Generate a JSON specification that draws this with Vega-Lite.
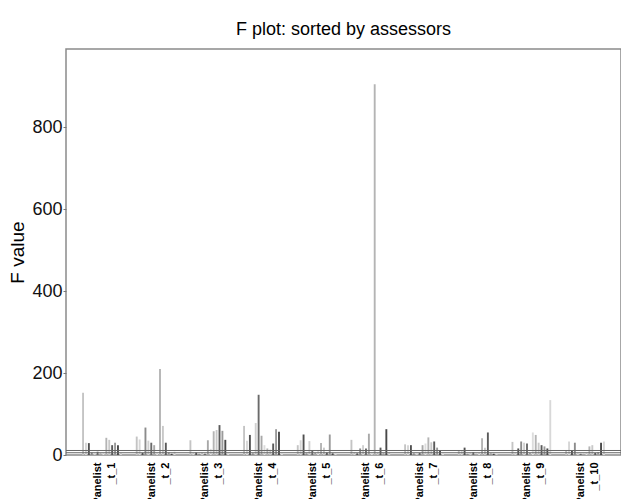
{
  "$schema": "https://vega.github.io/schema/vega-lite/v6.json",
  "width": 555,
  "height": 406,
  "autosize": {"type": "none"},
  "padding": {"left": 66, "top": 49, "right": 0, "bottom": 44},
  "background": "white",
  "title": {"text": "F plot: sorted by assessors", "fontSize": 18, "font": "Liberation Sans", "fontWeight": "normal", "offset": 10, "anchor": "middle", "color": "#000000"},
  "config": {"view": {"stroke": "#8a8a8a", "strokeWidth": 1.5}, "font": "Liberation Sans"},
  "datasets": {
    "bars": [
      {"panelist": "Panelist_t_1", "attribute": "A01", "F": 152},
      {"panelist": "Panelist_t_1", "attribute": "A02", "F": 30},
      {"panelist": "Panelist_t_1", "attribute": "A03", "F": 29},
      {"panelist": "Panelist_t_1", "attribute": "A04", "F": 6},
      {"panelist": "Panelist_t_1", "attribute": "A05", "F": 3},
      {"panelist": "Panelist_t_1", "attribute": "A06", "F": 8},
      {"panelist": "Panelist_t_1", "attribute": "A07", "F": 4},
      {"panelist": "Panelist_t_1", "attribute": "A08", "F": 4},
      {"panelist": "Panelist_t_1", "attribute": "A09", "F": 42},
      {"panelist": "Panelist_t_1", "attribute": "A10", "F": 37},
      {"panelist": "Panelist_t_1", "attribute": "A11", "F": 24},
      {"panelist": "Panelist_t_1", "attribute": "A12", "F": 30},
      {"panelist": "Panelist_t_1", "attribute": "A13", "F": 24},
      {"panelist": "Panelist_t_1", "attribute": "A14", "F": 5},
      {"panelist": "Panelist_t_2", "attribute": "A01", "F": 45},
      {"panelist": "Panelist_t_2", "attribute": "A02", "F": 38},
      {"panelist": "Panelist_t_2", "attribute": "A03", "F": 5},
      {"panelist": "Panelist_t_2", "attribute": "A04", "F": 67},
      {"panelist": "Panelist_t_2", "attribute": "A05", "F": 35},
      {"panelist": "Panelist_t_2", "attribute": "A06", "F": 30},
      {"panelist": "Panelist_t_2", "attribute": "A07", "F": 24},
      {"panelist": "Panelist_t_2", "attribute": "A08", "F": 4},
      {"panelist": "Panelist_t_2", "attribute": "A09", "F": 210},
      {"panelist": "Panelist_t_2", "attribute": "A10", "F": 71},
      {"panelist": "Panelist_t_2", "attribute": "A11", "F": 30},
      {"panelist": "Panelist_t_2", "attribute": "A12", "F": 6},
      {"panelist": "Panelist_t_2", "attribute": "A13", "F": 3},
      {"panelist": "Panelist_t_2", "attribute": "A14", "F": 8},
      {"panelist": "Panelist_t_3", "attribute": "A01", "F": 36},
      {"panelist": "Panelist_t_3", "attribute": "A02", "F": 4},
      {"panelist": "Panelist_t_3", "attribute": "A03", "F": 6},
      {"panelist": "Panelist_t_3", "attribute": "A04", "F": 3},
      {"panelist": "Panelist_t_3", "attribute": "A05", "F": 6},
      {"panelist": "Panelist_t_3", "attribute": "A06", "F": 3},
      {"panelist": "Panelist_t_3", "attribute": "A07", "F": 36},
      {"panelist": "Panelist_t_3", "attribute": "A08", "F": 15},
      {"panelist": "Panelist_t_3", "attribute": "A09", "F": 58},
      {"panelist": "Panelist_t_3", "attribute": "A10", "F": 61},
      {"panelist": "Panelist_t_3", "attribute": "A11", "F": 73},
      {"panelist": "Panelist_t_3", "attribute": "A12", "F": 59},
      {"panelist": "Panelist_t_3", "attribute": "A13", "F": 37},
      {"panelist": "Panelist_t_3", "attribute": "A14", "F": 3},
      {"panelist": "Panelist_t_4", "attribute": "A01", "F": 71},
      {"panelist": "Panelist_t_4", "attribute": "A02", "F": 35},
      {"panelist": "Panelist_t_4", "attribute": "A03", "F": 49},
      {"panelist": "Panelist_t_4", "attribute": "A04", "F": 4},
      {"panelist": "Panelist_t_4", "attribute": "A05", "F": 78},
      {"panelist": "Panelist_t_4", "attribute": "A06", "F": 147},
      {"panelist": "Panelist_t_4", "attribute": "A07", "F": 47},
      {"panelist": "Panelist_t_4", "attribute": "A08", "F": 24},
      {"panelist": "Panelist_t_4", "attribute": "A09", "F": 16},
      {"panelist": "Panelist_t_4", "attribute": "A10", "F": 13},
      {"panelist": "Panelist_t_4", "attribute": "A11", "F": 28},
      {"panelist": "Panelist_t_4", "attribute": "A12", "F": 63},
      {"panelist": "Panelist_t_4", "attribute": "A13", "F": 57},
      {"panelist": "Panelist_t_4", "attribute": "A14", "F": 3},
      {"panelist": "Panelist_t_5", "attribute": "A01", "F": 24},
      {"panelist": "Panelist_t_5", "attribute": "A02", "F": 36},
      {"panelist": "Panelist_t_5", "attribute": "A03", "F": 50},
      {"panelist": "Panelist_t_5", "attribute": "A04", "F": 4},
      {"panelist": "Panelist_t_5", "attribute": "A05", "F": 34},
      {"panelist": "Panelist_t_5", "attribute": "A06", "F": 10},
      {"panelist": "Panelist_t_5", "attribute": "A07", "F": 5},
      {"panelist": "Panelist_t_5", "attribute": "A08", "F": 12},
      {"panelist": "Panelist_t_5", "attribute": "A09", "F": 29},
      {"panelist": "Panelist_t_5", "attribute": "A10", "F": 18},
      {"panelist": "Panelist_t_5", "attribute": "A11", "F": 6},
      {"panelist": "Panelist_t_5", "attribute": "A12", "F": 50},
      {"panelist": "Panelist_t_5", "attribute": "A13", "F": 4},
      {"panelist": "Panelist_t_5", "attribute": "A14", "F": 3},
      {"panelist": "Panelist_t_6", "attribute": "A01", "F": 37},
      {"panelist": "Panelist_t_6", "attribute": "A02", "F": 6},
      {"panelist": "Panelist_t_6", "attribute": "A03", "F": 4},
      {"panelist": "Panelist_t_6", "attribute": "A04", "F": 16},
      {"panelist": "Panelist_t_6", "attribute": "A05", "F": 24},
      {"panelist": "Panelist_t_6", "attribute": "A06", "F": 16},
      {"panelist": "Panelist_t_6", "attribute": "A07", "F": 52},
      {"panelist": "Panelist_t_6", "attribute": "A08", "F": 3},
      {"panelist": "Panelist_t_6", "attribute": "A09", "F": 905},
      {"panelist": "Panelist_t_6", "attribute": "A10", "F": 5},
      {"panelist": "Panelist_t_6", "attribute": "A11", "F": 18},
      {"panelist": "Panelist_t_6", "attribute": "A12", "F": 4},
      {"panelist": "Panelist_t_6", "attribute": "A13", "F": 63},
      {"panelist": "Panelist_t_6", "attribute": "A14", "F": 5},
      {"panelist": "Panelist_t_7", "attribute": "A01", "F": 26},
      {"panelist": "Panelist_t_7", "attribute": "A02", "F": 24},
      {"panelist": "Panelist_t_7", "attribute": "A03", "F": 24},
      {"panelist": "Panelist_t_7", "attribute": "A04", "F": 4},
      {"panelist": "Panelist_t_7", "attribute": "A05", "F": 3},
      {"panelist": "Panelist_t_7", "attribute": "A06", "F": 5},
      {"panelist": "Panelist_t_7", "attribute": "A07", "F": 24},
      {"panelist": "Panelist_t_7", "attribute": "A08", "F": 28},
      {"panelist": "Panelist_t_7", "attribute": "A09", "F": 43},
      {"panelist": "Panelist_t_7", "attribute": "A10", "F": 31},
      {"panelist": "Panelist_t_7", "attribute": "A11", "F": 33},
      {"panelist": "Panelist_t_7", "attribute": "A12", "F": 18},
      {"panelist": "Panelist_t_7", "attribute": "A13", "F": 11},
      {"panelist": "Panelist_t_7", "attribute": "A14", "F": 3},
      {"panelist": "Panelist_t_8", "attribute": "A01", "F": 12},
      {"panelist": "Panelist_t_8", "attribute": "A02", "F": 10},
      {"panelist": "Panelist_t_8", "attribute": "A03", "F": 18},
      {"panelist": "Panelist_t_8", "attribute": "A04", "F": 3},
      {"panelist": "Panelist_t_8", "attribute": "A05", "F": 4},
      {"panelist": "Panelist_t_8", "attribute": "A06", "F": 7},
      {"panelist": "Panelist_t_8", "attribute": "A07", "F": 3},
      {"panelist": "Panelist_t_8", "attribute": "A08", "F": 5},
      {"panelist": "Panelist_t_8", "attribute": "A09", "F": 41},
      {"panelist": "Panelist_t_8", "attribute": "A10", "F": 18},
      {"panelist": "Panelist_t_8", "attribute": "A11", "F": 55},
      {"panelist": "Panelist_t_8", "attribute": "A12", "F": 4},
      {"panelist": "Panelist_t_8", "attribute": "A13", "F": 3},
      {"panelist": "Panelist_t_8", "attribute": "A14", "F": 2},
      {"panelist": "Panelist_t_9", "attribute": "A01", "F": 32},
      {"panelist": "Panelist_t_9", "attribute": "A02", "F": 4},
      {"panelist": "Panelist_t_9", "attribute": "A03", "F": 16},
      {"panelist": "Panelist_t_9", "attribute": "A04", "F": 33},
      {"panelist": "Panelist_t_9", "attribute": "A05", "F": 30},
      {"panelist": "Panelist_t_9", "attribute": "A06", "F": 28},
      {"panelist": "Panelist_t_9", "attribute": "A07", "F": 5},
      {"panelist": "Panelist_t_9", "attribute": "A08", "F": 55},
      {"panelist": "Panelist_t_9", "attribute": "A09", "F": 49},
      {"panelist": "Panelist_t_9", "attribute": "A10", "F": 30},
      {"panelist": "Panelist_t_9", "attribute": "A11", "F": 24},
      {"panelist": "Panelist_t_9", "attribute": "A12", "F": 21},
      {"panelist": "Panelist_t_9", "attribute": "A13", "F": 16},
      {"panelist": "Panelist_t_9", "attribute": "A14", "F": 134},
      {"panelist": "Panelist_t_10", "attribute": "A01", "F": 10},
      {"panelist": "Panelist_t_10", "attribute": "A02", "F": 33},
      {"panelist": "Panelist_t_10", "attribute": "A03", "F": 10},
      {"panelist": "Panelist_t_10", "attribute": "A04", "F": 30},
      {"panelist": "Panelist_t_10", "attribute": "A05", "F": 4},
      {"panelist": "Panelist_t_10", "attribute": "A06", "F": 3},
      {"panelist": "Panelist_t_10", "attribute": "A07", "F": 3},
      {"panelist": "Panelist_t_10", "attribute": "A08", "F": 5},
      {"panelist": "Panelist_t_10", "attribute": "A09", "F": 21},
      {"panelist": "Panelist_t_10", "attribute": "A10", "F": 24},
      {"panelist": "Panelist_t_10", "attribute": "A11", "F": 5},
      {"panelist": "Panelist_t_10", "attribute": "A12", "F": 7},
      {"panelist": "Panelist_t_10", "attribute": "A13", "F": 30},
      {"panelist": "Panelist_t_10", "attribute": "A14", "F": 33}
    ],
    "levels": [
      {"level": "1%", "F": 11},
      {"level": "5%", "F": 5.5}
    ]
  },
  "layer": [
    {
      "data": {"name": "bars"},
      "mark": {"type": "bar"},
      "encoding": {
        "x": {
          "field": "panelist", "type": "nominal", "sort": null,
          "scale": {"paddingInner": 0.26, "paddingOuter": 0.3},
          "axis": {
            "title": null, "domain": false, "ticks": false,
            "labelAngle": 270, "labelAlign": "right", "labelBaseline": "middle",
            "labelFontSize": 11, "labelFontWeight": "bold", "labelColor": "#000000",
            "labelPadding": 7, "labelLineHeight": 14, "labelOffset": -4,
            "labelExpr": "['Panelist', replace(datum.value, 'Panelist', '')]"
          }
        },
        "xOffset": {"field": "attribute", "type": "nominal", "scale": {"paddingInner": 0.35}},
        "y": {
          "field": "F", "type": "quantitative",
          "scale": {"domain": [0, 991], "nice": false},
          "axis": {
            "title": "F value", "titleFontSize": 19, "titleFontWeight": "normal", "titleColor": "#000000",
            "labelFontSize": 18, "labelColor": "#111111", "values": [0, 200, 400, 600, 800],
            "grid": false, "domain": false, "tickSize": 3, "tickColor": "#777777",
            "labelPadding": 1, "titlePadding": 4
          }
        },
        "color": {
          "field": "attribute", "type": "nominal", "legend": null,
          "scale": {"range": ["#c4c4c4", "#d6d6d6", "#505050", "#8c8c8c", "#d0d0d0", "#6a6a6a", "#a8a8a8", "#dcdcdc", "#b4b4b4", "#c8c8c8", "#5a5a5a", "#9a9a9a", "#484848", "#d8d8d8"]}
        }
      }
    },
    {
      "data": {"name": "levels"},
      "mark": {"type": "rule", "color": "#666666", "strokeWidth": 1},
      "encoding": {"y": {"field": "F", "type": "quantitative"}}
    }
  ]
}
